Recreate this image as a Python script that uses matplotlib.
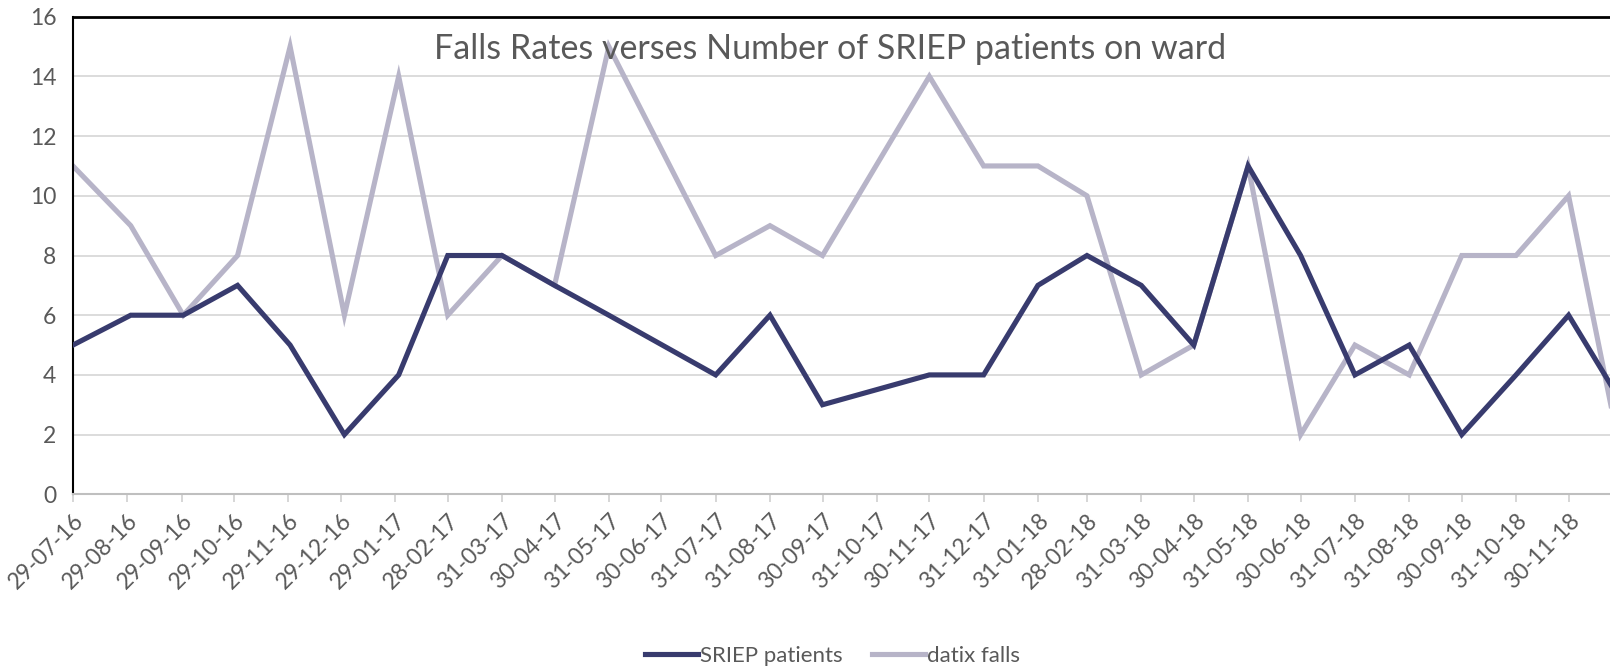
from datetime import datetime

import matplotlib
matplotlib.use("Agg")
import matplotlib.pyplot as plt

plt.rcParams["font.family"] = ["Lato", "DejaVu Sans"]

# month-end reporting dates (no return for 30-06-17 and 31-10-17)
dates = [
    "29-07-16", "31-08-16", "30-09-16", "31-10-16", "30-11-16", "31-12-16",
    "31-01-17", "28-02-17", "31-03-17", "30-04-17", "31-05-17", "31-07-17",
    "31-08-17", "30-09-17", "30-11-17", "31-12-17", "31-01-18", "28-02-18",
    "31-03-18", "30-04-18", "31-05-18", "30-06-18", "31-07-18", "31-08-18",
    "30-09-18", "31-10-18", "30-11-18", "31-12-18",
]
sriep_patients = [5, 6, 6, 7, 5, 2, 4, 8, 8, 7, 6, 4, 6, 3, 4, 4, 7, 8, 7, 5,
                  11, 8, 4, 5, 2, 4, 6, 3]
datix_falls = [11, 9, 6, 8, 15, 6, 14, 6, 8, 7, 15, 8, 9, 8, 14, 11, 11, 10, 4,
               5, 11, 2, 5, 4, 8, 8, 10, 1]

tick_labels = [
    "29-07-16", "29-08-16", "29-09-16", "29-10-16", "29-11-16", "29-12-16",
    "29-01-17", "28-02-17", "31-03-17", "30-04-17", "31-05-17", "30-06-17",
    "31-07-17", "31-08-17", "30-09-17", "31-10-17", "30-11-17", "31-12-17",
    "31-01-18", "28-02-18", "31-03-18", "30-04-18", "31-05-18", "30-06-18",
    "31-07-18", "31-08-18", "30-09-18", "31-10-18", "30-11-18",
]

NAVY = "#383b6e"
LAVENDER = "#b7b4c8"
TEXT = "#595959"


def parse(d):
    return datetime.strptime(d, "%d-%m-%y")


x = [parse(d) for d in dates]
ticks = [parse(t) for t in tick_labels]

fig = plt.figure(figsize=(16.10, 6.68), dpi=100)
# chart was cropped on the right, so the plot area runs past the figure edge
ax = fig.add_axes([0.0453, 0.26, 0.9627, 0.715])

ax.plot(x, sriep_patients, color=NAVY, lw=3.7, label="SRIEP patients",
        solid_joinstyle="miter", zorder=3)
ax.plot(x, datix_falls, color=LAVENDER, lw=3.7, label="datix falls",
        solid_joinstyle="miter", zorder=2)

ax.set_xlim(x[0], x[-1])
ax.set_ylim(0, 16)
ax.set_yticks(range(0, 17, 2))
ax.grid(axis="y", color="#d9d9d9", lw=1.3)
ax.set_axisbelow(True)

ax.set_xticks(ticks)
ax.set_xticklabels(tick_labels, rotation=45, ha="right", va="top",
                   rotation_mode="anchor")
ax.tick_params(axis="x", length=6, width=1.2, color="#d0d0d0", pad=5,
               labelsize=16.5, labelcolor=TEXT)
ax.tick_params(axis="y", length=0, pad=12, labelsize=16.5, labelcolor=TEXT)

ax.spines["left"].set_color("black")
ax.spines["left"].set_linewidth(1.5)
ax.spines["top"].set_color("black")
ax.spines["top"].set_linewidth(2)
ax.spines["bottom"].set_color("#bfbfbf")
ax.spines["bottom"].set_linewidth(1.5)
ax.spines["right"].set_visible(False)

fig.text(0.5155, 0.927, "Falls Rates verses Number of SRIEP patients on ward",
         ha="center", va="center", fontsize=24.5, color=TEXT)

fig.legend(loc="center", bbox_to_anchor=(0.517, 0.018), ncol=2, frameon=False,
           fontsize=16, labelcolor=TEXT, handlelength=2.4, handletextpad=0.1,
           columnspacing=1.3)

fig.savefig("out.png", dpi=100)
